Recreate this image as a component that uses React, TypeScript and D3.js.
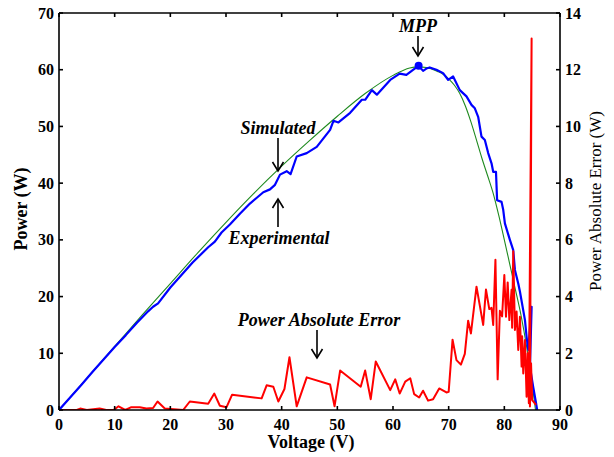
import React from "react";
import * as d3 from "d3";

// Simulated (green) P-V curve
const simV = [0, 5, 10, 15, 20, 25, 30, 35, 40, 45, 50, 55, 60, 63, 64.5, 66, 67, 68, 69, 70, 71, 72, 73, 74, 75, 76, 77, 78, 79, 80, 81, 82, 83, 84, 85, 85.6];
const simP = [0, 5.6, 11.2, 16.8, 22.3, 27.8, 33.1, 38.2, 43.0, 47.5, 51.8, 55.8, 59.0, 60.3, 60.5, 60.4, 60.1, 59.7, 59.2, 58.4, 57.3, 55.8, 53.6, 50.8, 47.6, 44.3, 41.3, 38.2, 34.3, 30.0, 25.6, 21.2, 16.7, 11.2, 4.6, 0];

// Experimental (blue) P-V curve
const expV = [0, 2, 4, 6, 8, 10, 12, 14, 16, 16.9, 17.8, 20, 22, 24, 26.8, 28, 29.2, 30.7, 32.5, 34.3, 36.7, 37.9, 38.8, 39.7, 40.9, 41.6, 42.7, 44.5, 46.3, 48.7, 49.3, 50.2, 52.3, 54.4, 55, 56.2, 57.1, 59.5, 61.2, 62.4, 63.9, 64.6, 65.4, 66, 66.6, 67.8, 69, 69.9, 70.8, 72, 73.2, 74.1, 74.7, 75.3, 75.9, 76.5, 77.1, 77.7, 78, 78.5, 78.7, 79.5, 79.8, 80.1, 81, 81.6, 81.9, 82.5, 82.8, 83.7, 84, 84.3, 84.9, 84.6, 85.2, 85.7, 85.9];
const expP = [0, 2.2, 4.4, 6.7, 8.9, 11.1, 13.2, 15.4, 17.4, 18.2, 18.8, 21.6, 23.8, 26.0, 28.7, 29.7, 31.3, 32.7, 34.6, 36.4, 38.4, 38.9, 39.7, 41.5, 42.1, 41.6, 44.7, 45.3, 46.4, 49.4, 51, 50.7, 52.4, 54.7, 54.7, 56.4, 55.6, 58.2, 59.3, 59.1, 60.2, 60.7, 59.8, 60.2, 60.4, 60, 59.4, 58.2, 58.8, 56.4, 55.3, 53.8, 53.2, 51.7, 48.2, 47.6, 45.3, 43.5, 42, 42, 37, 36.7, 35.3, 32.9, 30, 28.2, 24.7, 22.3, 20.9, 15.9, 12.9, 10.6, 18.2, 7.6, 4, 1.2, 0];

// Power absolute error (red, right axis)
const errV = [0, 1.5, 3.2, 3.8, 5, 7.3, 8.5, 9.8, 10.7, 11.9, 13, 14.5, 15.7, 16.9, 17.7, 19, 22.3, 23.5, 26.8, 27.9, 28.9, 30.1, 31.1, 36.4, 37.3, 38.5, 39.4, 40.5, 41.4, 42.7, 44.5, 48.7, 49.5, 50.5, 54.2, 55, 56, 56.9, 59.5, 60.4, 61.2, 62.2, 63.1, 63.8, 64.7, 65.4, 66.3, 67.2, 68.3, 69.6, 70, 70.7, 71.4, 72.2, 72.9, 73.5, 74, 75, 76.2, 76.7, 77.3, 77.7, 78, 78.4, 78.8, 79.2, 79.6, 80, 80.3, 80.6, 80.9, 81.3, 81.4, 81.6, 81.9, 82.2, 82.5, 82.8, 83.1, 83.2, 83.4, 83.7, 84, 84.2, 84.4, 84.9, 84.6, 84.8, 85, 85.7];
const errE = [0, 0, 0, 0.05, 0, 0.05, 0, 0, 0.13, 0, 0.1, 0.1, 0.05, 0.07, 0.3, 0.05, 0, 0.3, 0.22, 0.58, 0.15, 0.1, 0.54, 0.41, 0.87, 0.82, 0.3, 0.74, 1.86, 0.13, 1.15, 0.9, 0.13, 1.39, 0.82, 1.39, 0.38, 1.71, 0.7, 1.08, 0.58, 1.0, 1.12, 0.56, 0.44, 0.68, 0.33, 0.38, 0.76, 0.62, 0.64, 2.48, 1.76, 1.6, 1.98, 3.15, 2.7, 4.35, 3.0, 4.25, 3.56, 3.6, 3.0, 5.3, 1.08, 3.5, 3.3, 4.76, 3.29, 4.5, 3.17, 4.24, 2.9, 5.6, 2.82, 3.47, 2.12, 3.29, 1.53, 2.6, 1.29, 2.47, 0.47, 2.0, 0.24, 13.1, 0.12, 1.65, 0.35, 0.18];

const mppV = 64.6;
const mppP = 60.7;

const xTicks = [0, 10, 20, 30, 40, 50, 60, 70, 80, 90];
const yTicks = [0, 10, 20, 30, 40, 50, 60, 70];
const y2Ticks = [0, 2, 4, 6, 8, 10, 12, 14];

const W = 614;
const H = 457;
const L = 59, R = 560, T = 13, B = 410;

function Arrow({ x, y1, y2 }: { x: number; y1: number; y2: number }) {
  const dir = y2 > y1 ? 1 : -1;
  const hl = 9, hw = 5.5;
  return (
    <g stroke="#000" strokeWidth={1.6} fill="none">
      <line x1={x} y1={y1} x2={x} y2={y2} />
      <polyline points={`${x - hw},${y2 - dir * hl} ${x},${y2} ${x + hw},${y2 - dir * hl}`} />
    </g>
  );
}

export default function App() {
  const x = d3.scaleLinear().domain([0, 90]).range([L, R]);
  const y = d3.scaleLinear().domain([0, 70]).range([B, T]);
  const y2 = d3.scaleLinear().domain([0, 14]).range([B, T]);

  const sim = simV.map((v, i) => [v, simP[i]] as [number, number]);
  const exp = expV.map((v, i) => [v, expP[i]] as [number, number]);
  const err = errV.map((v, i) => [v, errE[i]] as [number, number]);

  const line1 = d3.line<[number, number]>().x(d => x(d[0])).y(d => y(d[1]));
  const line2 = d3.line<[number, number]>().x(d => x(d[0])).y(d => y2(d[1]));
  const simPath = d3.line<[number, number]>().x(d => x(d[0])).y(d => y(d[1])).curve(d3.curveMonotoneX)(sim) || "";

  const font = "'Liberation Serif', 'Times New Roman', serif";
  const tk = 4;

  return (
    <svg width={W} height={H} style={{ position: "absolute", left: 0, top: 0, background: "#fff" }} fontFamily={font}>
      <rect x={0} y={0} width={W} height={H} fill="#fff" />
      <defs>
        <clipPath id="plot">
          <rect x={L} y={T} width={R - L} height={B - T} />
        </clipPath>
      </defs>

      <g clipPath="url(#plot)">
        <path d={simPath} fill="none" stroke="#1f8a1f" strokeWidth={1.1} />
        <path d={line1(exp) || ""} fill="none" stroke="#0000ff" strokeWidth={2.2} strokeLinejoin="round" />
        <path d={line2(err) || ""} fill="none" stroke="#ff0000" strokeWidth={2} strokeLinejoin="round" />
      </g>
      <circle cx={x(mppV)} cy={y(mppP)} r={4} fill="#0000ff" />

      {/* axes box */}
      <g stroke="#000" strokeWidth={1.6} fill="none">
        <line x1={L} y1={B} x2={R} y2={B} />
        <line x1={L} y1={T} x2={R} y2={T} />
        <line x1={L} y1={T} x2={L} y2={B} />
        <line x1={R} y1={T} x2={R} y2={B} />
        {xTicks.map(t => (
          <g key={"xt" + t}>
            <line x1={x(t)} y1={B} x2={x(t)} y2={B - tk} />
            <line x1={x(t)} y1={T} x2={x(t)} y2={T + tk} />
          </g>
        ))}
        {yTicks.map(t => (
          <line key={"yt" + t} x1={L} y1={y(t)} x2={L + tk} y2={y(t)} />
        ))}
        {y2Ticks.map(t => (
          <line key={"y2t" + t} x1={R} y1={y2(t)} x2={R - tk} y2={y2(t)} />
        ))}
      </g>

      {/* tick labels */}
      <g fontSize={16} fontWeight="bold" fill="#000">
        {xTicks.map(t => (
          <text key={"xl" + t} x={x(t)} y={430} textAnchor="middle">{t}</text>
        ))}
        {yTicks.map(t => (
          <text key={"yl" + t} x={54} y={y(t) + 5.5} textAnchor="end">{t}</text>
        ))}
        {y2Ticks.map(t => (
          <text key={"y2l" + t} x={565} y={y2(t) + 5.5} textAnchor="start">{t}</text>
        ))}
      </g>

      {/* axis titles */}
      <text x={311} y={448} textAnchor="middle" fontSize={18} fontWeight="bold">Voltage (V)</text>
      <text transform="translate(27,209) rotate(-90)" textAnchor="middle" fontSize={18} fontWeight="bold">Power (W)</text>
      <text transform="translate(601,201) rotate(-90)" textAnchor="middle" fontSize={17}>Power Absolute Error (W)</text>

      {/* annotations */}
      <g fontSize={18} fontWeight="bold" fontStyle="italic">
        <text x={418} y={32} textAnchor="middle">MPP</text>
        <text x={278} y={134} textAnchor="middle">Simulated</text>
        <text x={279} y={244} textAnchor="middle">Experimental</text>
        <text x={319} y={326} textAnchor="middle">Power Absolute Error</text>
      </g>
      <Arrow x={418} y1={36} y2={56} />
      <Arrow x={278} y1={138} y2={171} />
      <Arrow x={278} y1={227} y2={199} />
      <Arrow x={317} y1={330} y2={358} />
    </svg>
  );
}
